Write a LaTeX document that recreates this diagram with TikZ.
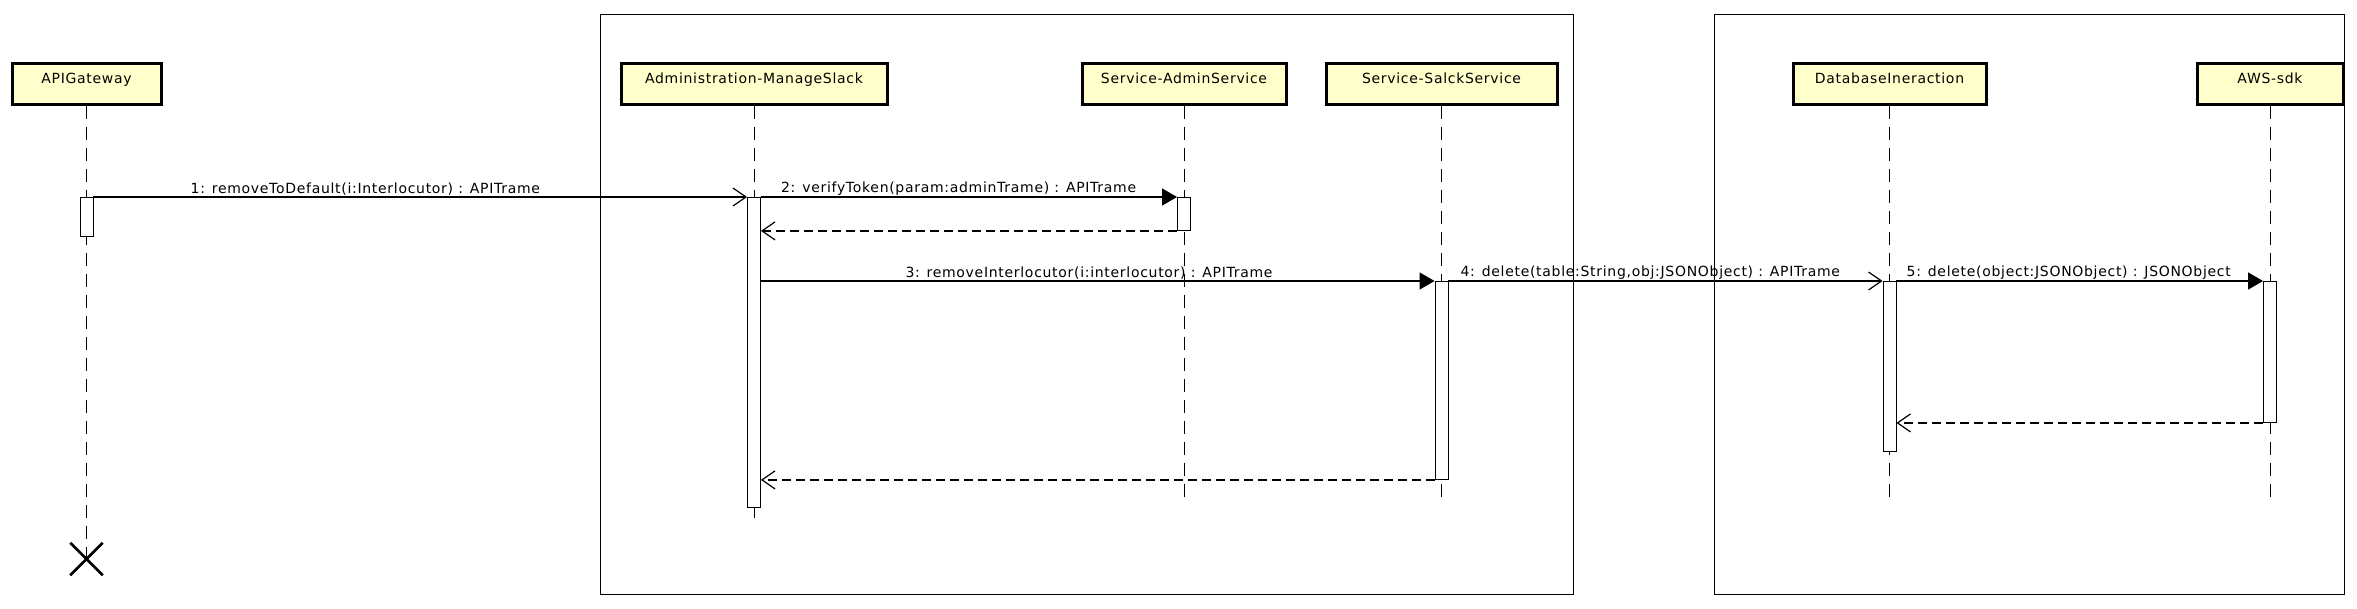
\documentclass[tikz,border=0pt]{standalone}
\usepackage{fontspec}
\setmainfont{DejaVu Sans}[LetterSpace=5]
\usepackage{tikz}
\usetikzlibrary{
    arrows.meta,
    shapes.misc
}
\definecolor{boxYellow}{RGB}{255, 255, 204}

\tikzset{
    lifeBox/.style={draw, line width=3pt, fill=boxYellow, inner sep=0pt,
        minimum height=41pt, text height=8pt, text depth=8pt,
        font=\fontsize{14}{16}\selectfont},
    lifeLine/.style={line width=0.9pt, dash pattern=on 13pt off 8pt},
    actBar/.style={draw, fill=white, line width=0.9pt, minimum width=13pt,
        inner sep=0pt, anchor=north},
    msgCall/.style={line width=1.2pt, -{Triangle[length=15pt, width=17pt]}},
    msgAsync/.style={line width=1.2pt, -{Straight Barb[length=13pt, width=18pt]}},
    msgReturn/.style={line width=1.2pt, dash pattern=on 9pt off 5pt,
        -{Straight Barb[length=13pt, width=18pt]}},
    msgLabel/.style={above, inner sep=1pt, font=\fontsize{14}{16}\selectfont}
}

\begin{document}
\begin{tikzpicture}[x=1pt, y=-1pt]
        \useasboundingbox (0,0) rectangle (2357,608);
        
        % フレーム
        \draw[line width=1pt] (600,14) rectangle (1573,594);
        \draw[line width=1pt] (1714,14) rectangle (2344,594);
        
        % ライフライン
        \node[lifeBox, minimum width=149pt] (gw) at (86.5,83.5) {APIGateway};
        \node[lifeBox, minimum width=266pt] (adm) at (754,83.5) {Administration-ManageSlack};
        \node[lifeBox, minimum width=204pt] (as) at (1184,83.5) {Service-AdminService};
        \node[lifeBox, minimum width=231pt] (sk) at (1441.5,83.5) {Service-SalckService};
        \node[lifeBox, minimum width=193pt] (db) at (1889.5,83.5) {DatabaseIneraction};
        \node[lifeBox, minimum width=146pt] (aws) at (2270,83.5) {AWS-sdk};
        
        \node[draw, cross out, line width=2.5pt, minimum size=30pt, inner sep=0pt] (gwDel) at (86.5,559) {};
        \coordinate (admEnd) at (754,525);
        \coordinate (asEnd) at (1184,500);
        \coordinate (skEnd) at (1441.5,500);
        \coordinate (dbEnd) at (1889.5,500);
        \coordinate (awsEnd) at (2270,500);
        
        \draw[lifeLine] (gw.south) -- (gwDel.center);
        \draw[lifeLine] (adm.south) -- (admEnd);
        \draw[lifeLine] (as.south) -- (asEnd);
        \draw[lifeLine] (sk.south) -- (skEnd);
        \draw[lifeLine] (db.south) -- (dbEnd);
        \draw[lifeLine] (aws.south) -- (awsEnd);
        
        % 活性区間
        \node[actBar, minimum height=39pt] (actGw) at (86.5,197) {};
        \node[actBar, minimum height=310pt] (actAdm) at (754,197) {};
        \node[actBar, minimum height=33pt] (actAs) at (1184,197) {};
        \node[actBar, minimum height=198pt] (actSk) at (1441.5,281) {};
        \node[actBar, minimum height=170pt] (actDb) at (1889.5,281) {};
        \node[actBar, minimum height=141pt] (actAws) at (2270,281) {};
        
        % メッセージ
        \draw[msgAsync] (actGw.north east) -- node[msgLabel, pos=0.416]{1: removeToDefault(i:Interlocutor) : APITrame} (actAdm.north west);
        \draw[msgCall] (actAdm.north east) -- node[msgLabel, pos=0.475]{2: verifyToken(param:adminTrame) : APITrame} (actAs.north west);
        \draw[msgReturn] (actAs.south west) -- (actAdm.east |- actAs.south);
        \draw[msgCall] (actAdm.east |- actSk.north) -- node[msgLabel, pos=0.487]{3: removeInterlocutor(i:interlocutor) : APITrame} (actSk.north west);
        \draw[msgAsync] (actSk.north east) -- node[msgLabel, pos=0.465]{4: delete(table:String,obj:JSONObject) : APITrame} (actDb.north west);
        \draw[msgCall] (actDb.north east) -- node[msgLabel, pos=0.47]{5: delete(object:JSONObject) : JSONObject} (actAws.north west);
        \draw[msgReturn] (actAws.south west) -- (actDb.east |- actAws.south);
        \draw[msgReturn] (actSk.south west) -- (actAdm.east |- actSk.south);
    \end{tikzpicture}
\end{document}
